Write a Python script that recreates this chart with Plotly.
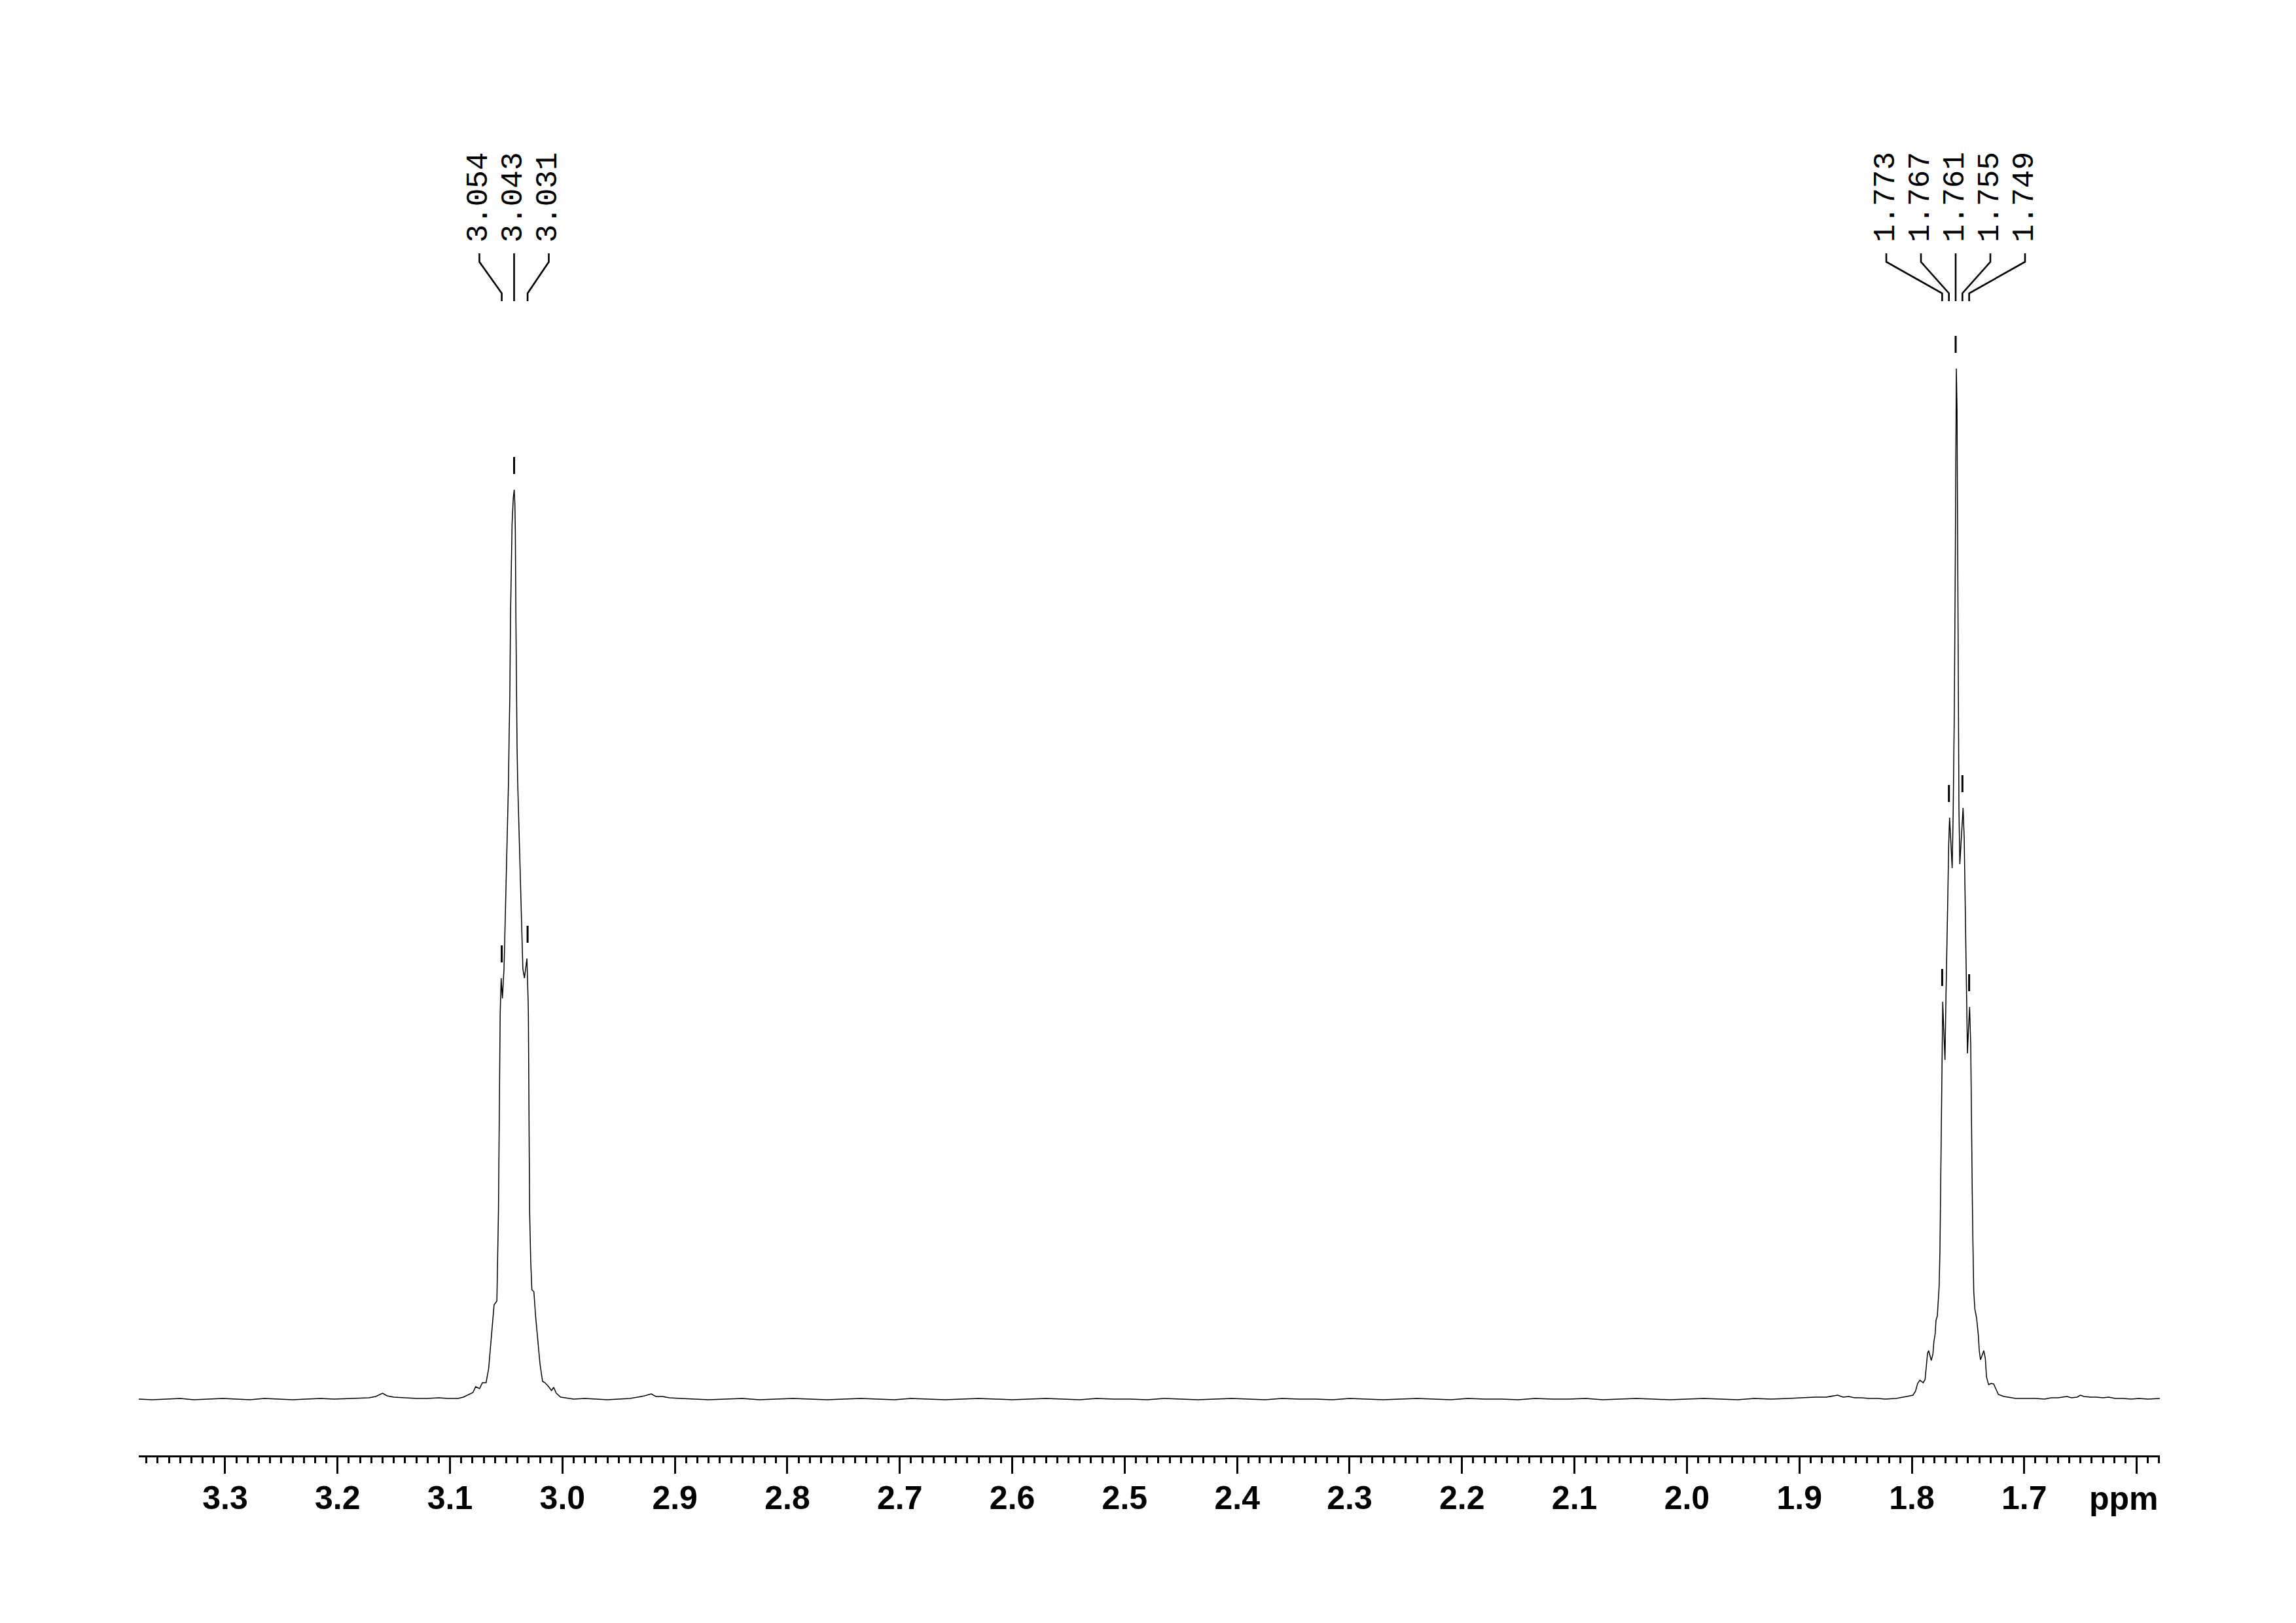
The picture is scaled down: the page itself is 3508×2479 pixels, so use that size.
import plotly.graph_objects as go

# ---------------- data (ppm, intensity a.u.) ----------------
BASE_LEFT = [
    (3.3768, 0), (3.365, -1), (3.352, 0), (3.340, 1), (3.328, -1), (3.315, 0), (3.302, 1),
    (3.290, 0), (3.278, -1), (3.265, 1), (3.252, 0), (3.240, -1), (3.228, 0), (3.215, 1),
    (3.203, 0), (3.190, 1), (3.180, 2), (3.172, 2), (3.166, 4), (3.160, 9), (3.156, 5),
    (3.150, 3), (3.140, 2), (3.130, 1), (3.120, 1), (3.110, 2), (3.102, 1), (3.096, 1),
]

PEAK_A = [
    (3.0928, 1), (3.0881, 3), (3.0796, 10), (3.0772, 19), (3.0737, 16), (3.0712, 25),
    (3.0679, 25), (3.0656, 47), (3.0637, 87), (3.0618, 130), (3.0608, 144), (3.0583, 150),
    (3.0573, 225), (3.0569, 287), (3.0554, 587), (3.0545, 643), (3.0534, 612), (3.0520, 657),
    (3.0515, 689), (3.0509, 729), (3.0503, 775), (3.0497, 827), (3.0491, 864), (3.0485, 901),
    (3.0480, 942), (3.0474, 1016), (3.0468, 1074), (3.0462, 1194), (3.0456, 1277),
    (3.0448, 1337), (3.0437, 1377), (3.0429, 1389), (3.0423, 1367), (3.0419, 1326),
    (3.0414, 1194), (3.0410, 1074), (3.0404, 999), (3.0398, 942), (3.0392, 901),
    (3.0385, 864), (3.0379, 827), (3.0371, 775), (3.0365, 729), (3.0359, 689), (3.0352, 657),
    (3.0338, 643), (3.0326, 660), (3.0316, 673), (3.0305, 607), (3.0303, 587), (3.0292, 287),
    (3.0282, 210), (3.0272, 167), (3.0254, 164), (3.0239, 127), (3.0219, 90), (3.0200, 54),
    (3.0177, 27), (3.0155, 25), (3.0123, 19), (3.0097, 13), (3.0078, 18), (3.0055, 9),
    (3.0016, 3), (2.9899, 0),
]

BASE_MID = [
    (2.980, 1), (2.970, 0), (2.960, -1), (2.950, 0), (2.940, 1), (2.933, 3), (2.927, 5),
    (2.921, 8), (2.917, 4), (2.911, 4), (2.905, 2), (2.895, 1), (2.885, 0), (2.870, -1),
    (2.855, 0), (2.840, 1), (2.825, -1), (2.810, 0), (2.795, 1), (2.780, 0), (2.765, -1),
    (2.750, 0), (2.735, 1), (2.720, 0), (2.705, -1), (2.690, 1), (2.675, 0), (2.660, -1),
    (2.645, 0), (2.630, 1), (2.615, 0), (2.600, -1), (2.585, 0), (2.570, 1), (2.555, 0),
    (2.540, -1), (2.525, 1), (2.510, 0), (2.495, 0), (2.480, -1), (2.465, 1), (2.450, 0),
    (2.435, -1), (2.420, 0), (2.405, 1), (2.390, 0), (2.375, -1), (2.360, 1), (2.345, 0),
    (2.330, 0), (2.315, -1), (2.300, 1), (2.285, 0), (2.270, -1), (2.255, 0), (2.240, 1),
    (2.225, 0), (2.210, -1), (2.195, 1), (2.180, 0), (2.165, 0), (2.150, -1), (2.135, 1),
    (2.120, 0), (2.105, 0), (2.090, 1), (2.075, -1), (2.060, 0), (2.045, 1), (2.030, 0),
    (2.015, -1), (2.000, 0), (1.985, 1), (1.970, 0), (1.955, -1), (1.940, 1), (1.925, 0),
    (1.910, 1), (1.898, 2), (1.886, 3), (1.876, 3), (1.870, 5), (1.866, 6), (1.861, 3),
    (1.856, 4), (1.851, 2), (1.845, 2), (1.838, 1), (1.830, 1),
]

PEAK_B = [
    (1.8239, 0), (1.8141, 1), (1.8045, 4), (1.7990, 6), (1.7967, 12), (1.7948, 24),
    (1.7928, 29), (1.7899, 25), (1.7882, 30), (1.7870, 52), (1.7860, 70), (1.7850, 74),
    (1.7827, 59), (1.7812, 69), (1.7804, 87), (1.7792, 100), (1.7785, 120), (1.7773, 127),
    (1.7765, 145), (1.7757, 172), (1.7750, 224), (1.7744, 304), (1.7738, 409), (1.7734, 457),
    (1.7731, 513), (1.7725, 607), (1.7716, 565), (1.7705, 518), (1.7696, 616), (1.7690, 689),
    (1.7680, 765), (1.7672, 846), (1.7664, 888), (1.7653, 852), (1.7641, 811), (1.7632, 896),
    (1.7622, 1049), (1.7614, 1259), (1.7608, 1470), (1.7604, 1574), (1.7598, 1512),
    (1.7593, 1309), (1.7587, 1072), (1.7581, 903), (1.7573, 817), (1.7559, 862),
    (1.7544, 903), (1.7534, 857), (1.7528, 792), (1.7521, 708), (1.7515, 624), (1.7505, 528),
    (1.7496, 565), (1.7486, 599), (1.7476, 540), (1.7472, 457), (1.7469, 437), (1.7463, 324),
    (1.7457, 244), (1.7449, 164), (1.7439, 137), (1.7424, 124), (1.7408, 97), (1.7400, 74),
    (1.7389, 60), (1.7360, 74), (1.7346, 62), (1.7336, 34), (1.7317, 22), (1.7294, 24),
    (1.7272, 23), (1.7249, 14), (1.7230, 7), (1.7181, 4), (1.7075, 1), (1.6958, 1),
]

BASE_RIGHT = [
    (1.690, 1), (1.682, 0), (1.676, 2), (1.670, 2), (1.665, 3), (1.662, 4), (1.658, 2),
    (1.653, 3), (1.650, 6), (1.647, 4), (1.641, 3), (1.636, 3), (1.630, 2), (1.625, 3),
    (1.619, 1), (1.612, 1), (1.605, 0), (1.598, 1), (1.590, 0), (1.5794, 1),
]

# picked peaks (label values) and their heights
PEAK_PPM = [3.054, 3.043, 3.031, 1.773, 1.767, 1.761, 1.755, 1.749]
PEAK_INT = [643, 1389, 673, 607, 888, 1574, 903, 599]
PEAK_GROUPS = [[0, 1, 2], [3, 4, 5, 6, 7]]

TICK_VALS = [3.3, 3.2, 3.1, 3.0, 2.9, 2.8, 2.7, 2.6, 2.5, 2.4, 2.3, 2.2, 2.1, 2.0, 1.9, 1.8, 1.7, 1.6]
TICK_TEXT = ["3.3", "3.2", "3.1", "3.0", "2.9", "2.8", "2.7", "2.6", "2.5", "2.4", "2.3",
             "2.2", "2.1", "2.0", "1.9", "1.8", "1.7", ""]
AXIS_UNIT = "ppm"

# ---------------- layout constants ----------------
W, H = 3508, 2479
X_LEFT, X_RIGHT = 3.3768, 1.5794
M_L, M_R, M_T, M_B = 204, 216, 92, 264   # page body adds an 8px offset
Y_MIN, Y_MAX = -86, 2037          # intensity units == pixels here
PPM_PER_PX = (X_LEFT - X_RIGHT) / (W - M_L - M_R)
LABEL_SPACING_PX = 53
MARK_GAP, MARK_LEN = 24, 26
CONN_TOP, CONN_BEND1, CONN_BEND2, CONN_BOT = 1750, 1737, 1689, 1677
LABEL_BASE = 1765
TICK_FONT = dict(family="Liberation Sans", size=50, color="black", weight="bold")

spectrum = BASE_LEFT + PEAK_A + BASE_MID + PEAK_B + BASE_RIGHT
spec_x = [p for p, _ in spectrum]
spec_y = [v for _, v in spectrum]

fig = go.Figure()
fig.add_trace(go.Scatter(x=spec_x, y=spec_y, mode="lines",
                         line=dict(color="black", width=1.5), hoverinfo="skip",
                         showlegend=False))

# small vertical marks above picked peaks
mx, my = [], []
for p, h in zip(PEAK_PPM, PEAK_INT):
    mx += [p, p, None]
    my += [h + MARK_GAP, h + MARK_GAP + MARK_LEN, None]
fig.add_trace(go.Scatter(x=mx, y=my, mode="lines", line=dict(color="black", width=3),
                         hoverinfo="skip", showlegend=False))

# peak labels with connector lines
cx, cy = [], []
annotations = []
for grp in PEAK_GROUPS:
    n = len(grp)
    center = PEAK_PPM[grp[n // 2]]
    for i, idx in enumerate(grp):
        k = i - (n - 1) / 2
        col = center - k * LABEL_SPACING_PX * PPM_PER_PX
        p = PEAK_PPM[idx]
        cx += [col, col, p, p, None]
        cy += [CONN_TOP, CONN_BEND1, CONN_BEND2, CONN_BOT, None]
        annotations.append(dict(x=col, y=LABEL_BASE, xref="x", yref="y",
                                text=f"{p:.3f}", showarrow=False, textangle=-90,
                                xanchor="center", yanchor="bottom",
                                font=dict(family="Liberation Mono", size=46, color="black")))
fig.add_trace(go.Scatter(x=cx, y=cy, mode="lines", line=dict(color="black", width=2.6),
                         hoverinfo="skip", showlegend=False))

# axis unit label, right-aligned with the end of the axis
annotations.append(dict(x=1, y=0, xref="paper", yref="paper", text=AXIS_UNIT,
                        showarrow=False, xanchor="right", yanchor="top",
                        yshift=-36, font=TICK_FONT))

fig.update_layout(
    width=W, height=H,
    margin=dict(l=M_L, r=M_R, t=M_T, b=M_B, pad=0),
    paper_bgcolor="white", plot_bgcolor="white",
    showlegend=False,
    annotations=annotations,
    xaxis=dict(range=[X_LEFT, X_RIGHT], showgrid=False, zeroline=False,
               showline=True, linecolor="black", linewidth=3,
               ticks="outside", ticklen=25, tickwidth=3, tickcolor="black",
               tickmode="array", tickvals=TICK_VALS, ticktext=TICK_TEXT,
               tickfont=TICK_FONT,
               ticklabelstandoff=-6,
               minor=dict(ticks="outside", ticklen=9, tickwidth=3, tickcolor="black",
                          tickmode="linear", tick0=0, dtick=0.01, showgrid=False)),
    yaxis=dict(range=[Y_MIN, Y_MAX], visible=False, showgrid=False, zeroline=False),
)

fig.write_html("out.html")
